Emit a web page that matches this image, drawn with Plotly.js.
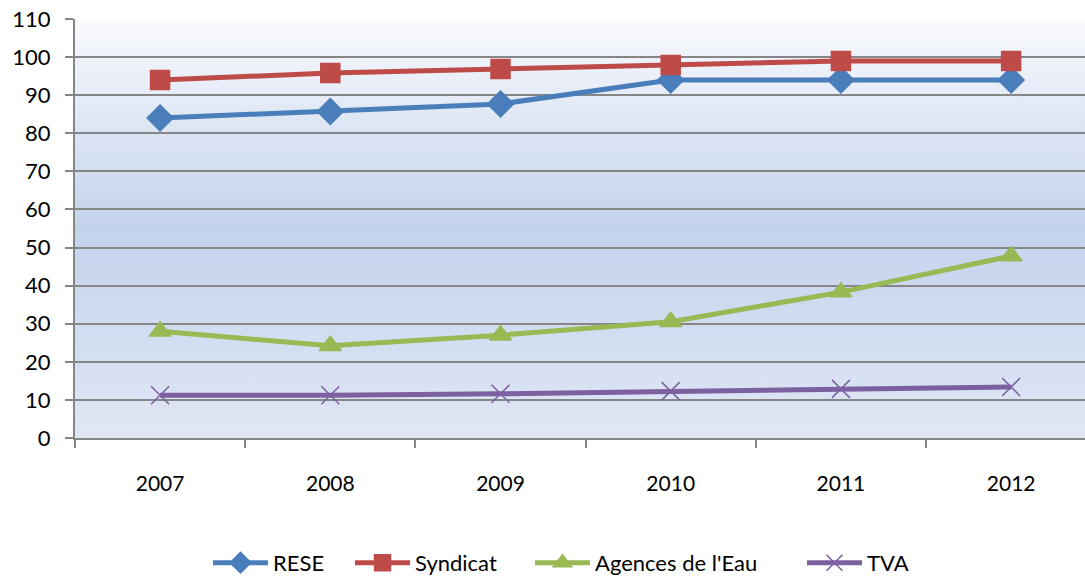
<!DOCTYPE html>
<html>
<head>
<meta charset="utf-8">
<script src="https://cdn.plot.ly/plotly-3.0.1.min.js"></script>
<style>
  html, body { margin: 0; padding: 0; background: #fff; overflow: hidden; }
  #chart { width: 1085px; height: 578px; }
</style>
</head>
<body>
<div id="chart"></div>
<script>
// values
var years = ['2007', '2008', '2009', '2010', '2011', '2012'];
var rese = [84, 85.7, 87.7, 94, 94, 94];
var syndicat = [94, 95.8, 96.9, 97.9, 99, 99];
var agences = [28, 24.2, 27, 30.5, 38.3, 47.8];
var tva = [11.2, 11.2, 11.6, 12.3, 12.9, 13.4];

// vertical gradient for the plot area, like the Excel fill
var grad = '<svg xmlns="http://www.w3.org/2000/svg" width="10" height="100" preserveAspectRatio="none">' +
  '<defs><linearGradient id="g" x1="0" y1="0" x2="0" y2="1">' +
  '<stop offset="0" stop-color="#f9fafd"/>' +
  '<stop offset="0.5" stop-color="#c4d3ed"/>' +
  '<stop offset="1" stop-color="#e0e7f5"/>' +
  '</linearGradient></defs><rect width="10" height="100" fill="url(#g)"/></svg>';
var gradUrl = 'data:image/svg+xml;base64,' + btoa(grad);

function line(name, vals, color, symbol, size, leg) {
  return {
    x: years,
    y: vals,
    name: name,
    legend: leg,
    type: 'scatter',
    mode: 'lines+markers',
    line: { color: color, width: 5 },
    marker: { symbol: symbol, size: size, color: color, line: { color: color, width: 1.5 } }
  };
}

var data = [
  line('RESE', rese, '#4a7ebb', 'diamond', 20, 'legend'),
  line('Syndicat', syndicat, '#be4b48', 'square', 19, 'legend2'),
  line('Agences de l\'Eau', agences, '#98b954', 'triangle-up', 19, 'legend3'),
  line('TVA', tva, '#7d60a0', 'x-thin-open', 18, 'legend4')
];

// one legend per series so the entries sit where the original has them
function leg(x) {
  return {
    orientation: 'h',
    x: x, xanchor: 'left',
    y: -0.298, yanchor: 'middle',
    itemwidth: 55,
    font: { size: 22 },
    bgcolor: 'rgba(0,0,0,0)'
  };
}

var layout = {
  width: 1085,
  height: 578,
  margin: { l: 75, r: 0, t: 19, b: 140, autoexpand: false },
  paper_bgcolor: '#ffffff',
  plot_bgcolor: 'rgba(0,0,0,0)',
  font: { family: 'Lato, "Open Sans", sans-serif', size: 21, color: '#000' },
  showlegend: true,
  legend: leg(0.1317),
  legend2: leg(0.2723),
  legend3: leg(0.4505),
  legend4: leg(0.7198),
  images: [{
    source: gradUrl,
    xref: 'paper', yref: 'paper',
    x: 0, y: 1, sizex: 1, sizey: 1,
    sizing: 'stretch', layer: 'below'
  }],
  xaxis: {
    type: 'category',
    range: [-0.5, 5.434],
    showgrid: false,
    showline: true,
    linecolor: '#868686',
    linewidth: 2,
    ticks: 'outside',
    tickson: 'boundaries',
    ticklen: 8,
    tickwidth: 2,
    tickcolor: '#868686',
    ticklabelstandoff: 26,
    tickfont: { size: 21 },
    zeroline: false
  },
  yaxis: {
    range: [0, 110],
    dtick: 10,
    showgrid: true,
    gridcolor: '#868686',
    gridwidth: 2,
    showline: true,
    linecolor: '#868686',
    linewidth: 2,
    ticks: 'outside',
    ticklen: 8,
    tickwidth: 2,
    tickcolor: '#868686',
    ticklabelstandoff: 10,
    tickfont: { size: 22 },
    zeroline: false
  }
};

Plotly.newPlot('chart', data, layout, { displayModeBar: false, staticPlot: true });
</script>
</body>
</html>
